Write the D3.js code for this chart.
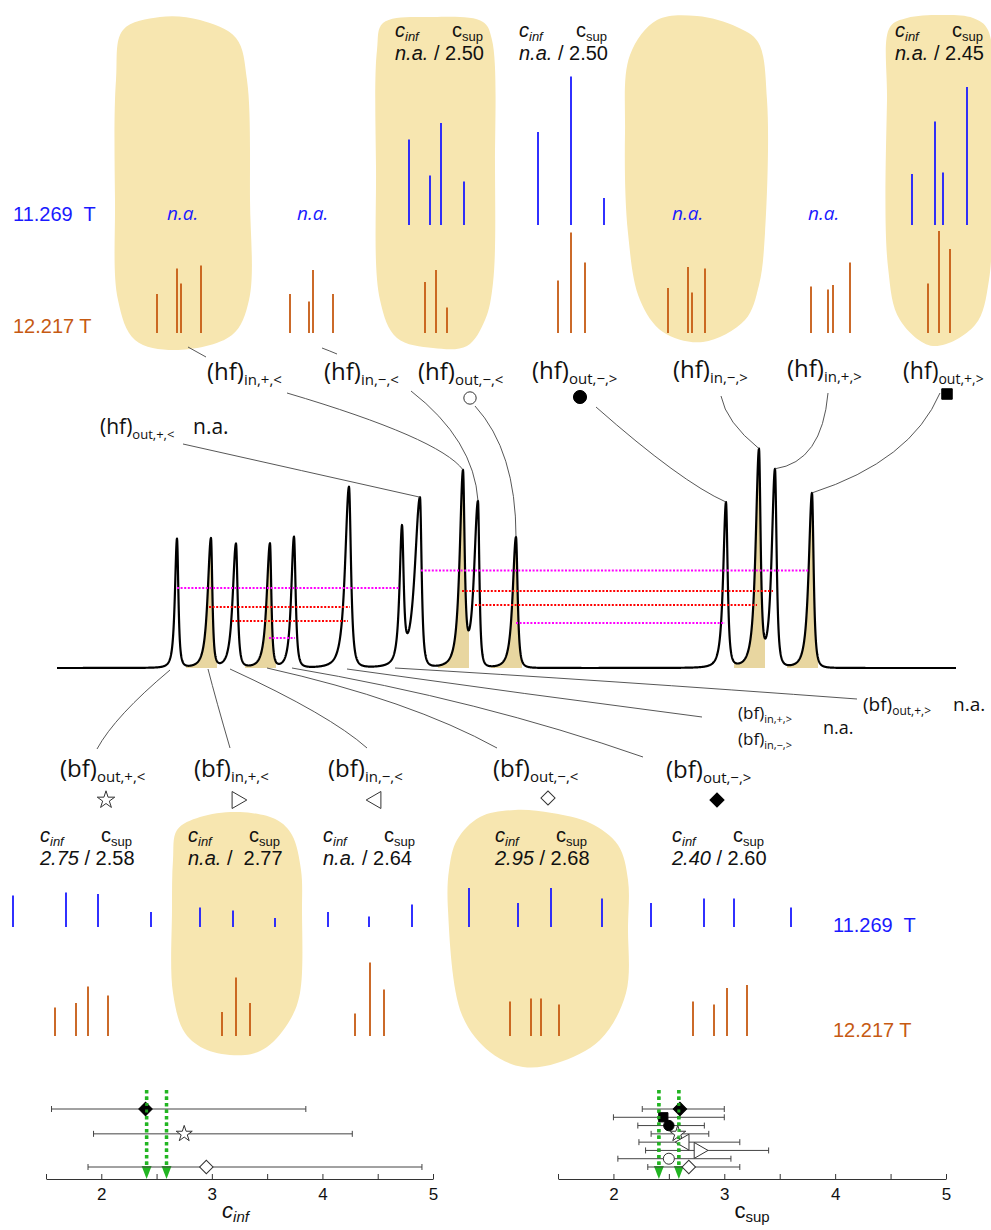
<!DOCTYPE html>
<html><head><meta charset="utf-8">
<script src="https://cdn.jsdelivr.net/npm/d3@7"></script>
<style>body{margin:0;background:#fff} svg{display:block} text{white-space:pre}</style>
</head><body>
<svg id="c" width="991" height="1230"></svg>
<script>
// ---------------- DATA ----------------
// experimental spectrum: peaks (position in frequency units, intensity, left/right half widths)
const peakPos   = [120,154,179,213,237,292,345,363,406,421,459,669,702,718,755];
const peakInt   = [129,129,124,124,131,181,132,170,190,166,131,165,214,198,175];
const peakWL    = [2.4,3.8,3.8,3.8,3.2,4.5,2.8,6.0,3.8,4.5,3.8,3.2,3.8,3.8,3.8];
const peakWR    = [1.6,1.6,1.9,1.6,1.9,2.3,1.9,1.9,1.9,1.6,1.9,1.9,1.9,1.9,1.9];
const shadedPeaks = [1,3,8,10,12,14];
// dotted connection lines (from, to, level, kind)
const dotFrom  = [120,152,175,212,364,405,418,459];
const dotTo    = [343,293,291,238,752,716,700,668];
const dotLevel = [80,61,47,30,97.5,77,63,45];
const dotKind  = ['m','r','r','m','m','r','r','m'];

// simulated stick spectra (frequency units, relative intensity)
const topBluePos = [352,373,384,407,481,514,547,855,878,886,910];
const topBlueInt = [57,33,68,29,62,99,18,34,69,35,92];
const topOrangePos = [100,120,124,144,233,252,256,276,368,379,390,501,514,528,611,631,635,648,754,771,776,793,871,882,893];
const topOrangeInt = [26,43,33,45,26,21,42,26,34,42,17,35,67,47,30,44,27,43,31,29,32,47,33,68,56];
const botBluePos = [-44,9,41,94,143,176,218,271,312,355,412,461,494,545,594,647,677,734];
const botBlueInt = [21,23,22,10,13,11,6,10,7,15,26,16,26,19,16,19,19,13];
const botOrangePos = [-2,19,31,51,165,179,193,298,313,327,453,474,484,502,636,657,670,690];
const botOrangeInt = [19,22,33,27,16,39,22,15,49,31,23,25,25,21,23,21,32,34];
const fieldLabels = ['11.269  T','12.217 T'];

// sites, markers and fitted c values
const siteMarker = ['circleOpen','circleFilled','square','star','triRight','triLeft','diamondOpen','diamondFilled'];
const cSup   = [2.50,2.50,2.45,2.58,2.77,2.64,2.68,2.60];
const cSupLo = [2.04,2.22,2.00,2.34,2.29,2.23,2.31,2.26];
const cSupHi = [3.06,2.82,3.00,2.86,3.40,3.14,3.14,3.00];
const cInf   = [null,null,null,2.75,null,null,2.95,2.40];
const cInfLo = [null,null,null,1.93,null,null,1.88,1.55];
const cInfHi = [null,null,null,4.27,null,null,4.90,3.85];
const plotRowOrder = [7,2,1,3,5,4,0,6];
const refValues = [2.41,2.59];
const axisTicks = [1.5,2,2.5,3,3.5,4,4.5,5];

// ---------------- DRAWING ----------------
const svg = d3.select('#c');
const HAND = "'Open Sans','DejaVu Sans',sans-serif";
const ARIAL = "Arial,'Liberation Sans',sans-serif";
const BLUE = '#1a1aff', ORANGE = '#c65a12', BLOB = '#f7e6b0', SHADE = '#e8d6a0';

// blobs (highlight regions)
const blobs = [
 [[123,30],[160,17],[200,20],[236,38],[247,80],[250,200],[249,300],[232,335],[175,350],[135,340],[118,300],[115,200],[116,80]],
 [[383,23],[433,17],[483,22],[492,40],[495,167],[493,283],[485,320],[467,346],[433,348],[397,338],[380,300],[376,167],[377,50]],
 [[657,20],[697,16],[737,27],[758,42],[767,100],[765,233],[759,285],[745,320],[703,342],[663,332],[640,300],[628,233],[625,133],[630,55]],
 [[890,27],[907,18],[940,15],[973,18],[988,30],[991,167],[989,280],[975,325],[933,346],[900,320],[888,267],[887,100]],
 [[177,830],[200,817],[240,812],[277,820],[292,835],[301,870],[302,910],[300,993],[290,1020],[267,1047],[245,1055],[207,1050],[185,1033],[173,993],[172,910],[173,860]],
 [[457,840],[480,817],[515,810],[552,813],[590,823],[618,845],[628,880],[628,927],[626,993],[600,1040],[557,1063],[523,1067],[490,1052],[462,1015],[448,910],[449,870]]
];
const blobLine = d3.line().curve(d3.curveCatmullRomClosed.alpha(0.5));
svg.selectAll('path.blob').data(blobs).enter().append('path')
  .attr('class','blob').attr('d', blobLine).attr('fill', BLOB);

// scales
const xS = d3.scaleLinear().domain([0,899]).range([57,956]);
const yS = d3.scaleLinear().domain([0,220]).range([668,448]);
const stickH = d3.scaleLinear().domain([0,100]).range([0,150]);

// sticks
function sticks(pos, inten, base, color){
  svg.append('g').selectAll('line').data(pos).enter().append('line')
    .attr('x1', d=>xS(d)).attr('x2', d=>xS(d))
    .attr('y1', base).attr('y2', (d,i)=>base - stickH(inten[i]))
    .attr('stroke', color).attr('stroke-width', 1.8);
}
sticks(topBluePos, topBlueInt, 225, BLUE);
sticks(topOrangePos, topOrangeInt, 333, ORANGE);
sticks(botBluePos, botBlueInt, 927, BLUE);
sticks(botOrangePos, botOrangeInt, 1036, ORANGE);

function txt(x,y,s,size,font,color,style){
  return svg.append('text').attr('x',x).attr('y',y).attr('font-family',font).attr('font-size',size)
    .attr('fill',color||'#111').attr('font-style',style||'normal').text(s);
}
txt(13,221,fieldLabels[0],20,ARIAL,BLUE);
txt(13,333,fieldLabels[1],20,ARIAL,ORANGE);
txt(833,932,fieldLabels[0],20,ARIAL,BLUE);
txt(833,1037,fieldLabels[1],20,ARIAL,ORANGE);
[167,297,672,808].forEach(x=>txt(x,220,'n.a.',19,HAND,BLUE,'italic'));

// c labels
const fmt = d3.format('.2f');
const cLabelPos = [[395,37],[519,37],[895,37],[40,842],[188,842],[323,842],[495,842],[672,842]];
cLabelPos.forEach((p,i)=>{
  const supDx = i<3 ? 57 : 61;
  let t = svg.append('text').attr('x',p[0]).attr('y',p[1]).attr('font-family',ARIAL).attr('font-size',20).attr('fill','#111');
  t.append('tspan').attr('font-style','italic').text('c');
  t.append('tspan').attr('font-style','italic').attr('font-size',13).attr('dy',4).text('inf');
  t = svg.append('text').attr('x',p[0]+supDx).attr('y',p[1]).attr('font-family',ARIAL).attr('font-size',20).attr('fill','#111');
  t.append('tspan').text('c');
  t.append('tspan').attr('font-size',13).attr('dy',4).text('sup');
  t = svg.append('text').attr('x',p[0]).attr('y',p[1]+23).attr('font-family',ARIAL).attr('font-size',20).attr('fill','#111');
  t.append('tspan').attr('font-style','italic').text(cInf[i]==null ? 'n.a.' : fmt(cInf[i]));
  t.append('tspan').text((i===4?' /  ':' / ') + fmt(cSup[i]));
});

// spectrum: asymmetric peaks with fast-decaying (power 1.5) Lorentzian-like shape
const SHAPE_K = 0.766; // converts half width at half maximum into shape parameter
function spec(x){
  let s=0;
  for(let i=0;i<peakPos.length;i++){
    const d=x-peakPos[i], g = (d<0?peakWL[i]:peakWR[i])/SHAPE_K, u=d/g;
    s += peakInt[i]/Math.pow(1+u*u,1.5);
  }
  return s;
}
const xsamp = d3.range(0, 899.01, 0.25);
shadedPeaks.forEach(i=>{
  const xs = d3.range(peakPos[i]-25, peakPos[i]+6.01, 0.25);
  svg.append('path').datum(xs)
    .attr('d', d3.area().x(d=>xS(d)).y0(yS(0)).y1(d=>yS(spec(d))))
    .attr('fill', SHADE);
});
svg.append('path').datum(xsamp)
  .attr('d', d3.line().x(d=>xS(d)).y(d=>yS(spec(d))))
  .attr('fill','none').attr('stroke','#000').attr('stroke-width',2.2).attr('stroke-linejoin','round');

// dotted lines
dotFrom.forEach((f,i)=>{
  svg.append('line').attr('x1',xS(f)).attr('x2',xS(dotTo[i]))
    .attr('y1',yS(dotLevel[i])).attr('y2',yS(dotLevel[i]))
    .attr('stroke', dotKind[i]==='m' ? '#ff00ff' : '#ff0000')
    .attr('stroke-width',2).attr('stroke-dasharray','2,1.6');
});

// connectors
function conn(x0,y0,cx,cy,x1,y1){
  const p = d3.path(); p.moveTo(x0,y0); p.quadraticCurveTo(cx,cy,x1,y1);
  svg.append('path').attr('d',p.toString()).attr('fill','none').attr('stroke','#444').attr('stroke-width',0.9);
}
function peakTop(i){ return [xS(peakPos[i]), yS(spec(peakPos[i]))]; }
const topConn = [
  [183,444,null,null,7],[287,393,439,438,8],[411,391,474,440,9],[475,406,516,451,10],
  [596,407,681,482,11],[721,396,726,422,12],[828,393,822,462,13],[940,393,911,461,14]
];
topConn.forEach(c=>{
  const [px,py] = peakTop(c[4]);
  const cx = c[2]==null ? (c[0]+px)/2 : c[2], cy = c[3]==null ? (c[1]+py)/2 : c[3];
  conn(c[0],c[1],cx,cy,px,py);
});
conn(188,347,197,352,206,357);
conn(322,348,330,351,337,354);
const botConn = [
  [170,670,115,716,97,749],[208,669,216,700,230,748],[230,669,330,715,367,748],
  [267,668,410,700,497,748],[292,668,480,700,643,757],[347,669,525,694,702,717],[395,668,600,680,857,699]
];
botConn.forEach(c=>conn(...c));

// labels
function lab(x,y,main,sub,size,subSize,color){
  const t = svg.append('text').attr('x',x).attr('y',y).attr('font-family',HAND).attr('font-size',size).attr('fill',color||'#111');
  t.append('tspan').text(main);
  t.append('tspan').attr('font-size',subSize).attr('dy',size*0.22).text(sub);
}
lab(207,380,'(hf)','in,+,<',24,15);
lab(324,380,'(hf)','in,−,<',24,15);
lab(418,380,'(hf)','out,−,<',24,15);
lab(532,379,'(hf)','out,−,>',24,15);
lab(673,378,'(hf)','in,−,>',24,15);
lab(787,377,'(hf)','in,+,>',24,15);
lab(903,379,'(hf)','out,+,>',23,14);
lab(100,434,'(hf)','out,+,<',21,13);
txt(193,434,'n.a.',21,HAND,'#111');
lab(60,777,'(bf)','out,+,<',24,15);
lab(194,777,'(bf)','in,+,<',24,15);
lab(328,777,'(bf)','in,−,<',24,15);
lab(493,777,'(bf)','out,−,<',24,15);
lab(666,778,'(bf)','out,−,>',24,15);
lab(738,719,'(bf)','in,+,>',17,11);
lab(738,745,'(bf)','in,−,>',17,11);
txt(823,734,'n.a.',18,HAND,'#111');
lab(863,711,'(bf)','out,+,>',19,12);
txt(953,711,'n.a.',19,HAND,'#111');

// markers
function markerPath(type, size){
  const base = {circleOpen:d3.symbolCircle, circleFilled:d3.symbolCircle, square:d3.symbolSquare,
    star:d3.symbolStar, triRight:d3.symbolTriangle, triLeft:d3.symbolTriangle,
    diamondOpen:d3.symbolSquare, diamondFilled:d3.symbolSquare}[type];
  return d3.symbol(base, size)();
}
function marker(type,x,y,size){
  const rot = {triRight:90, triLeft:-90, diamondOpen:45, diamondFilled:45}[type] || 0;
  const filled = /Filled|square/.test(type);
  svg.append('path').attr('d', markerPath(type,size))
    .attr('transform',`translate(${x},${y}) rotate(${rot})`)
    .attr('fill', filled ? '#000' : '#fff').attr('stroke', filled ? '#000':'#333').attr('stroke-width',1);
}
const markerAt = [[470,398],[580,397],[947,394],[106,800],[237,800],[376,800],[548,798],[717,800]];
const bigSize = {circleOpen:120,circleFilled:135,square:110,star:95,triRight:125,triLeft:125,diamondOpen:100,diamondFilled:100};
siteMarker.forEach((m,i)=>marker(m,markerAt[i][0],markerAt[i][1],bigSize[m]));

// ---------- bottom plots ----------
const rowY = d3.scalePoint().domain(d3.range(8)).range([1109,1167]);
const smallSize = {circleOpen:95,circleFilled:85,square:85,star:80,triRight:110,triLeft:110,diamondOpen:90,diamondFilled:90};
function errPlot(x0,x1,vals,lo,hi,labelMain,labelSub,subItalic){
  const xs = d3.scaleLinear().domain([1.5,5]).range([x0,x1]);
  const ax = svg.append('g').attr('transform','translate(0,1179)')
    .call(d3.axisBottom(xs).tickValues(axisTicks).tickSize(-5).tickSizeOuter(0).tickPadding(9)
      .tickFormat(d=>Number.isInteger(d)?d:''));
  ax.select('.domain').attr('stroke','#333');
  ax.selectAll('.tick line').attr('stroke','#333');
  ax.selectAll('text').attr('font-family',ARIAL).attr('font-size',17).attr('fill','#111');
  refValues.forEach(v=>{
    const x = xs(v);
    svg.append('line').attr('x1',x).attr('x2',x).attr('y1',1090).attr('y2',1168)
      .attr('stroke','#22b522').attr('stroke-width',3.5).attr('stroke-dasharray','3.5,3');
    svg.append('path').attr('d',`M${x-5},${1166}L${x+5},${1166}L${x},${1179}Z`).attr('fill','#22b522');
  });
  plotRowOrder.forEach((site,row)=>{
    if(vals[site]==null) return;
    const y = rowY(row);
    const g = svg.append('g').attr('stroke','#444').attr('stroke-width',1);
    g.append('line').attr('x1',xs(lo[site])).attr('x2',xs(hi[site])).attr('y1',y).attr('y2',y);
    g.append('line').attr('x1',xs(lo[site])).attr('x2',xs(lo[site])).attr('y1',y-3).attr('y2',y+3);
    g.append('line').attr('x1',xs(hi[site])).attr('x2',xs(hi[site])).attr('y1',y-3).attr('y2',y+3);
  });
  plotRowOrder.forEach((site,row)=>{
    if(vals[site]==null) return;
    marker(siteMarker[site], xs(vals[site]), rowY(row), smallSize[siteMarker[site]]);
  });
  refValues.forEach(v=>{
    const x = xs(v);
    svg.append('line').attr('x1',x).attr('x2',x).attr('y1',1090).attr('y2',1166)
      .attr('stroke','#22b522').attr('stroke-width',3).attr('stroke-dasharray','3,3.5').attr('opacity',0.85);
  });
  const t = svg.append('text').attr('x',(x0+x1)/2+ (subItalic?-4:0)).attr('y',1218).attr('text-anchor','middle')
    .attr('font-family',ARIAL).attr('font-size',22).attr('fill','#111');
  t.append('tspan').attr('font-style',subItalic?'italic':'normal').text(labelMain);
  t.append('tspan').attr('font-style',subItalic?'italic':'normal').attr('font-size',15).attr('dy',4).text(labelSub);
}
errPlot(46,433,cInf,cInfLo,cInfHi,'c','inf',true);
errPlot(558,946,cSup,cSupLo,cSupHi,'c','sup',false);
</script>
</body></html>
